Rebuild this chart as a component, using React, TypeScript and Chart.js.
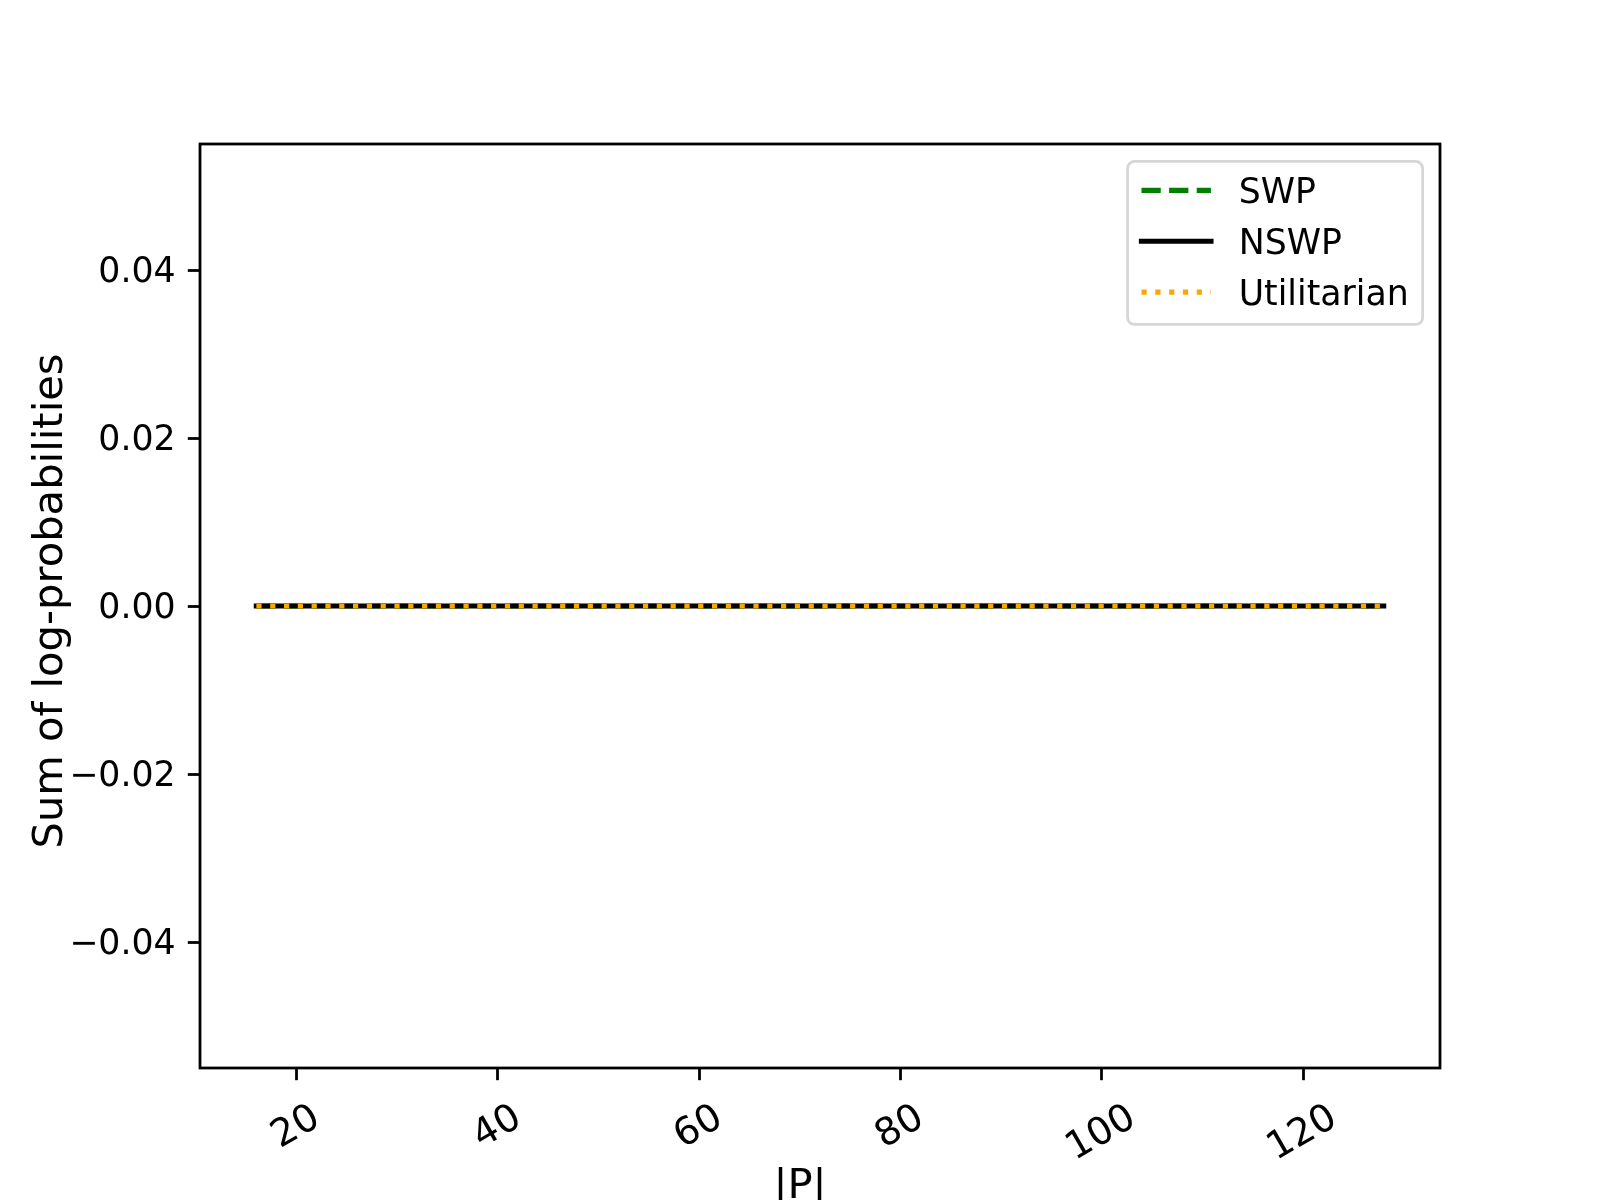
import React, { useEffect, useRef } from 'react';
import { Chart, registerables } from 'chart.js';

Chart.register(...registerables);

// ---- data ----
const xValues = [16, 32, 48, 64, 80, 96, 112, 128];
const swpValues = [0, 0, 0, 0, 0, 0, 0, 0];
const nswpValues = [0, 0, 0, 0, 0, 0, 0, 0];
const utilitarianValues = [0, 0, 0, 0, 0, 0, 0, 0];
const seriesLabels = ['SWP', 'NSWP', 'Utilitarian'];
const xTickValues = [20, 40, 60, 80, 100, 120];
const yTickValues = [-0.04, -0.02, 0, 0.02, 0.04];
const xTitle = '|P|';
const yTitle = 'Sum of log-probabilities';
const xRange = [10.4, 133.6];
const yRange = [-0.055, 0.055];

const FONT = '"DejaVu Sans", "Liberation Sans", sans-serif';
const FS = 34.72; // 10pt @ 250dpi
const FS_XTICK = 38.19; // 11pt
const FS_LABEL = 41.67; // 12pt @ 250dpi
const LW = 5.21; // 1.5pt
const AXLW = 2.78; // 0.8pt

const fmtY = (v: number) => v.toFixed(2).replace('-', '\u2212');

const toPoints = (vals: number[]) => xValues.map((x, i) => ({ x, y: vals[i] }));

const decorPlugin = {
  id: 'mplDecor',
  afterDraw(chart: any) {
    const ctx: CanvasRenderingContext2D = chart.ctx;
    const ca = chart.chartArea;
    ctx.save();
    // frame
    ctx.lineWidth = AXLW;
    ctx.strokeStyle = '#000';
    ctx.setLineDash([]);
    ctx.strokeRect(ca.left, ca.top, ca.right - ca.left, ca.bottom - ca.top);

    // x tick labels, rotated 30deg, centered on tick
    const xs = chart.scales.x;
    ctx.fillStyle = '#000';
    ctx.font = `${FS_XTICK}px ${FONT}`;
    ctx.textAlign = 'center';
    ctx.textBaseline = 'alphabetic';
    const capH = 0.729 * FS_XTICK;
    const ang = Math.PI / 6;
    xs.ticks.forEach((t: any) => {
      const label = String(t.value);
      const px = xs.getPixelForValue(t.value);
      const w = ctx.measureText(label).width;
      const H = w * Math.sin(ang) + capH * Math.cos(ang);
      const cx = px - 2.5;
      const cy = ca.bottom + 31 + H / 2 + 1;
      ctx.save();
      ctx.translate(cx, cy);
      ctx.rotate(-ang);
      ctx.fillText(label, 0, capH / 2);
      ctx.restore();
    });

    // axis titles
    ctx.font = `${FS_LABEL}px ${FONT}`;
    ctx.textAlign = 'center';
    ctx.textBaseline = 'alphabetic';
    ctx.fillText(xTitle, (ca.left + ca.right) / 2 - 20, 1198);
    ctx.save();
    ctx.translate(62, (ca.top + ca.bottom) / 2 - 5);
    ctx.rotate(-Math.PI / 2);
    ctx.fillText(yTitle, 0, 0);
    ctx.restore();

    // legend
    ctx.font = `${FS}px ${FONT}`;
    const ds = chart.data.datasets;
    const pad = 0.4 * FS;
    const handleLen = 2 * FS;
    const textPad = 0.8 * FS;
    const axPad = 0.5 * FS;
    const labelSp = 0.5 * FS;
    const pitch = 50.9;
    const textW = Math.max(...ds.map((d: any) => ctx.measureText(d.label).width));
    const boxW = 2 * pad + handleLen + textPad + textW;
    const boxH = 2 * pad + ds.length * pitch - labelSp;
    const right = ca.right - axPad;
    const top = ca.top + axPad;
    const left = right - boxW;
    const r = 0.2 * FS;
    ctx.beginPath();
    ctx.moveTo(left + r, top);
    ctx.lineTo(right - r, top);
    ctx.arcTo(right, top, right, top + r, r);
    ctx.lineTo(right, top + boxH - r);
    ctx.arcTo(right, top + boxH, right - r, top + boxH, r);
    ctx.lineTo(left + r, top + boxH);
    ctx.arcTo(left, top + boxH, left, top + boxH - r, r);
    ctx.lineTo(left, top + r);
    ctx.arcTo(left, top, left + r, top, r);
    ctx.closePath();
    ctx.fillStyle = 'rgba(255,255,255,0.8)';
    ctx.fill();
    ctx.lineWidth = AXLW;
    ctx.strokeStyle = 'rgba(204,204,204,0.8)';
    ctx.stroke();

    ds.forEach((d: any, i: number) => {
      const hy = top + 29 + i * pitch;
      const by = top + 41.6 + i * pitch;
      ctx.beginPath();
      ctx.setLineDash(d.borderDash || []);
      ctx.lineDashOffset = 0;
      ctx.lineCap = d.borderCapStyle || 'butt';
      ctx.lineWidth = d.borderWidth;
      ctx.strokeStyle = d.borderColor;
      ctx.moveTo(left + pad, hy);
      ctx.lineTo(left + pad + handleLen, hy);
      ctx.stroke();
      ctx.setLineDash([]);
      ctx.fillStyle = '#000';
      ctx.textAlign = 'left';
      ctx.textBaseline = 'alphabetic';
      ctx.fillText(d.label, left + pad + handleLen + textPad, by);
    });
    ctx.restore();
  },
};

export default function App() {
  const ref = useRef<HTMLCanvasElement | null>(null);
  useEffect(() => {
    document.body.style.margin = '0';
    const canvas = ref.current;
    if (!canvas) return;
    const chart = new Chart(canvas, {
      type: 'line',
      data: {
        datasets: [
          {
            label: seriesLabels[0],
            data: toPoints(swpValues),
            borderColor: '#008000',
            borderWidth: LW,
            borderDash: [3.7 * LW, 1.6 * LW],
            borderCapStyle: 'butt',
            pointRadius: 0,
            fill: false,
            order: 2,
          },
          {
            label: seriesLabels[1],
            data: toPoints(nswpValues),
            borderColor: '#000000',
            borderWidth: LW,
            borderCapStyle: 'square',
            pointRadius: 0,
            fill: false,
            order: 1,
          },
          {
            label: seriesLabels[2],
            data: toPoints(utilitarianValues),
            borderColor: '#FFA500',
            borderWidth: LW,
            borderDash: [1 * LW, 1.65 * LW],
            borderCapStyle: 'butt',
            pointRadius: 0,
            fill: false,
            order: 0,
          },
        ],
      },
      options: {
        animation: false,
        responsive: false,
        devicePixelRatio: 1,
        layout: { padding: { top: 144, right: 160, bottom: 0, left: 0 } },
        plugins: {
          legend: { display: false },
          tooltip: { enabled: false },
          title: { display: false },
        },
        scales: {
          x: {
            type: 'linear',
            min: xRange[0],
            max: xRange[1],
            afterBuildTicks: (s: any) => {
              s.ticks = xTickValues.map((v) => ({ value: v }));
            },
            afterFit: (s: any) => {
              s.height = 132;
            },
            ticks: { display: false, autoSkip: false },
            grid: {
              display: true,
              drawOnChartArea: false,
              drawTicks: true,
              tickLength: 12.2,
              tickWidth: AXLW,
              tickColor: '#000',
            },
            border: { display: false },
          },
          y: {
            type: 'linear',
            min: yRange[0],
            max: yRange[1],
            afterBuildTicks: (s: any) => {
              s.ticks = yTickValues.map((v) => ({ value: v }));
            },
            afterFit: (s: any) => {
              s.width = 200;
            },
            ticks: {
              autoSkip: false,
              color: '#000',
              padding: 12.2,
              labelOffset: 3,
              font: { family: FONT, size: FS },
              callback: (v: any) => fmtY(Number(v)),
            },
            grid: {
              display: true,
              drawOnChartArea: false,
              drawTicks: true,
              tickLength: 12.2,
              tickWidth: AXLW,
              tickColor: '#000',
            },
            border: { display: false },
          },
        },
      },
      plugins: [decorPlugin],
    } as any);
    return () => chart.destroy();
  }, []);
  return (
    <div style={{ width: 1600, height: 1200, background: '#fff' }}>
      <canvas ref={ref} width={1600} height={1200} style={{ display: 'block' }} />
    </div>
  );
}
